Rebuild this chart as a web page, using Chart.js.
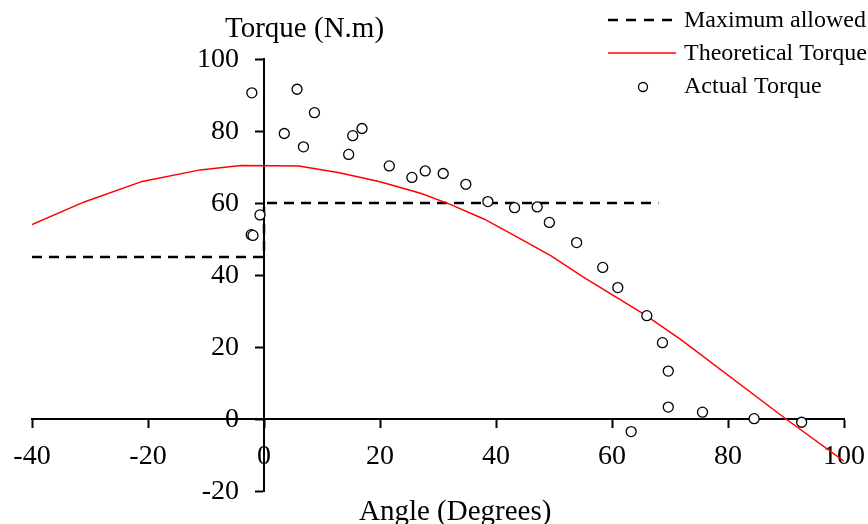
<!DOCTYPE html>
<html>
<head>
<meta charset="utf-8">
<title>Torque vs Angle</title>
<script src="https://cdn.jsdelivr.net/npm/chart.js@4.4.1/dist/chart.umd.min.js"></script>
<style>
    html, body { margin: 0; padding: 0; background: #fff; }
    #chart { display: block; }
</style>
</head>
<body>
<canvas id="chart" width="868" height="524"></canvas>
<script>
// Maximum allowed torque (step line)
const maxAllowedAngle = [-40, 0, 0, 68];
const maxAllowedTorque = [45, 45, 60, 60];

// Theoretical torque curve
const theoAngle = [-40, -31, -21, -11, -4, 6, 13, 20, 27, 32, 38, 43.6, 49.5, 55, 65.7, 72, 90, 100];
const theoTorque = [54, 60.3, 66, 69.2, 70.4, 70.3, 68.4, 65.9, 62.7, 59.7, 55.5, 50.6, 45.3, 39.5, 28.9, 21.9, 0, -11.7];

// Measured torque
const actualAngle = [-2.1, 5.7, 3.5, 6.8, 8.7, 14.6, 15.3, 16.9, 21.6, 25.5, 27.8, 30.9, 34.8, 38.6,
    43.2, 47.1, 49.2, 53.9, 58.4, 61.0, 66.0, 68.7, 69.7, 69.7, 63.3, 75.6, 84.5, 92.7, -0.7, -2.2, -1.9];
const actualTorque = [90.6, 91.6, 79.3, 75.6, 85.1, 73.5, 78.7, 80.7, 70.3, 67.1, 68.9, 68.2, 65.2, 60.4,
    58.7, 58.9, 54.6, 49.0, 42.1, 36.5, 28.7, 21.2, 13.3, 3.3, -3.5, 1.9, 0.1, -0.9, 56.7, 51.2, 51.0];

// Axis ticks
const xTicks = [-40, -20, 0, 20, 40, 60, 80, 100];
const yTicks = [-20, 0, 20, 40, 60, 80, 100];

const FONT = '"Liberation Serif", "Times New Roman", serif';

function toPoints(xs, ys) {
    return xs.map((x, i) => ({ x: x, y: ys[i] }));
}

// y tick labels, axis titles and the legend box, drawn by hand
const decorations = {
    id: 'decorations',
    afterDraw(chart) {
        const ctx = chart.ctx;
        const xs = chart.scales.x;
        const ys = chart.scales.y;
        const axisX = xs.getPixelForValue(0);
        ctx.save();
        ctx.fillStyle = '#000';

        // y tick labels, left of the axis that sits at x = 0
        ctx.font = '28px ' + FONT;
        ctx.textAlign = 'right';
        ctx.textBaseline = 'middle';
        yTicks.forEach(v => {
            ctx.fillText(String(v), axisX - 25, ys.getPixelForValue(v) + 1);
        });

        ctx.font = '29px ' + FONT;
        ctx.textBaseline = 'alphabetic';
        ctx.textAlign = 'left';
        ctx.fillText('Torque (N.m)', 225, 37);
        ctx.fillText('Angle (Degrees)', 359, 520);

        // legend
        ctx.font = '24px ' + FONT;
        ctx.textBaseline = 'middle';
        ctx.strokeStyle = '#000';
        ctx.lineWidth = 2.5;
        ctx.setLineDash([10, 8]);
        ctx.beginPath();
        ctx.moveTo(608, 20);
        ctx.lineTo(674, 20);
        ctx.stroke();
        ctx.setLineDash([]);
        ctx.fillText('Maximum allowed', 684, 21);

        ctx.strokeStyle = '#ff0000';
        ctx.lineWidth = 1.5;
        ctx.beginPath();
        ctx.moveTo(608, 53);
        ctx.lineTo(676, 53);
        ctx.stroke();
        ctx.fillText('Theoretical Torque', 684, 54);

        ctx.strokeStyle = '#000';
        ctx.lineWidth = 1.3;
        ctx.fillStyle = '#fff';
        ctx.beginPath();
        ctx.arc(643, 87, 4.5, 0, Math.PI * 2);
        ctx.fill();
        ctx.stroke();
        ctx.fillStyle = '#000';
        ctx.fillText('Actual Torque', 684, 87);
        ctx.restore();
    }
};

// keep the tick labels from pushing the plot area in
function noPadding(scale) {
    scale.paddingLeft = 0;
    scale.paddingRight = 0;
    scale.paddingTop = 0;
    scale.paddingBottom = 0;
}

const axisCommon = {
    type: 'linear',
    border: { color: '#000', width: 2 },
    grid: {
        drawOnChartArea: false,
        drawTicks: true,
        tickLength: 8,
        tickColor: '#000',
        tickWidth: 2
    },
    afterFit: noPadding
};

new Chart(document.getElementById('chart'), {
    type: 'scatter',
    data: {
        datasets: [
            {
                label: 'Actual Torque',
                data: toPoints(actualAngle, actualTorque),
                showLine: false,
                pointRadius: 5,
                pointBorderWidth: 1.3,
                pointBorderColor: '#000',
                pointBackgroundColor: '#fff',
                order: 0
            },
            {
                label: 'Theoretical Torque',
                data: toPoints(theoAngle, theoTorque),
                showLine: true,
                borderColor: '#ff0000',
                borderWidth: 1.5,
                pointRadius: 0,
                tension: 0,
                order: 1
            },
            {
                label: 'Maximum allowed',
                data: toPoints(maxAllowedAngle, maxAllowedTorque),
                showLine: true,
                borderColor: '#000',
                borderWidth: 2.5,
                borderDash: [10, 7],
                pointRadius: 0,
                tension: 0,
                order: 2
            }
        ]
    },
    options: {
        responsive: false,
        animation: false,
        devicePixelRatio: 1,
        layout: { padding: { left: 32, right: 24, top: 59, bottom: 33 } },
        plugins: {
            legend: { display: false },
            tooltip: { enabled: false }
        },
        scales: {
            x: Object.assign({}, axisCommon, {
                position: { y: 0 },
                min: -40,
                max: 100,
                afterBuildTicks: axis => { axis.ticks = xTicks.map(v => ({ value: v })); },
                ticks: { color: '#000', padding: 13, maxRotation: 0, font: { family: FONT, size: 28 } }
            }),
            y: Object.assign({}, axisCommon, {
                position: { x: 0 },
                min: -20,
                max: 100,
                afterBuildTicks: axis => { axis.ticks = yTicks.map(v => ({ value: v })); },
                ticks: { display: false }
            })
        }
    },
    plugins: [decorations]
});
</script>
</body>
</html>
